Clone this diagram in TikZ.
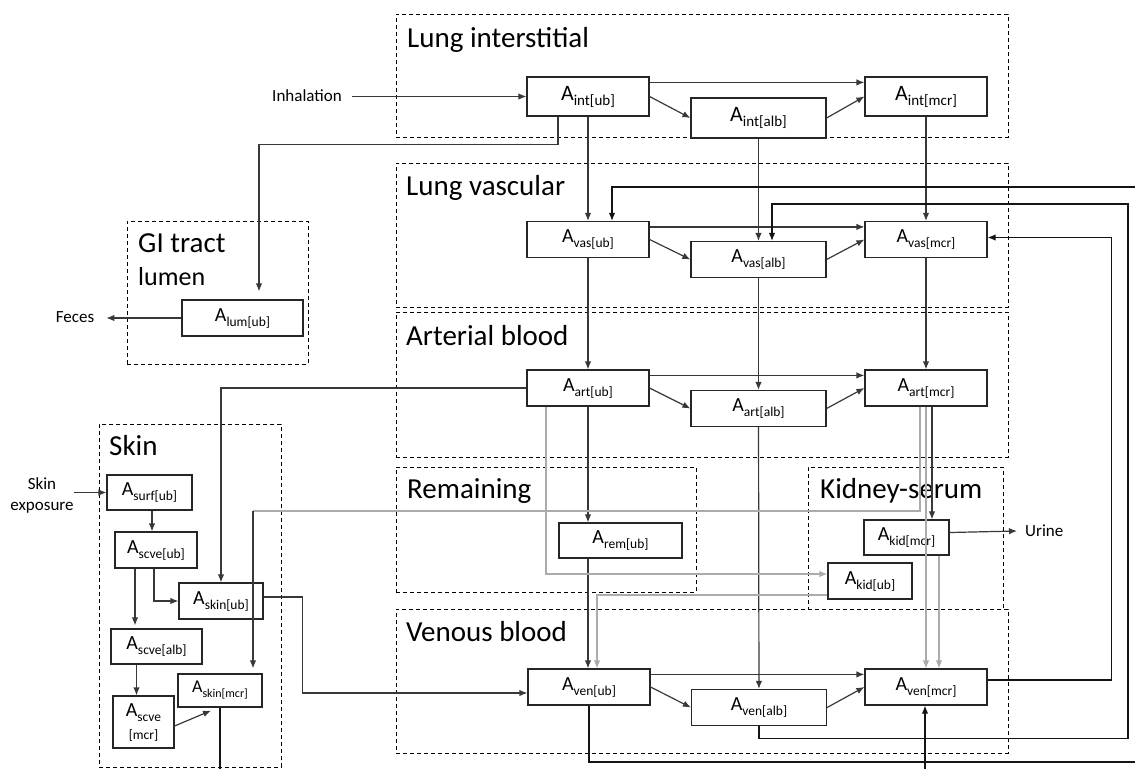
\documentclass[tikz,border=0pt]{standalone}
\usepackage{fontspec}
\setmainfont{Carlito}
\usetikzlibrary{arrows.meta, positioning, calc}

\newcommand{\Acomp}[2][13.5]{A\raisebox{-5pt}{\fontsize{#1}{#1}\selectfont #2}}

\tikzset{
  compbox/.style={draw=black!85, line width=1.2pt, inner sep=0pt, font=\fontsize{20}{24}\selectfont},
  ubbox/.style={compbox, minimum width=122pt, minimum height=36pt},
  albbox/.style={compbox, minimum width=135pt, minimum height=36pt},
  region/.style={draw=black, dash pattern=on 4pt off 3pt, line width=0.9pt, inner sep=0pt, anchor=north west},
  regtitle/.style={anchor=base west, inner sep=0pt, font=\fontsize{29}{34}\selectfont},
  flow/.style={draw=black!78, line width=1.2pt, -{Latex[length=8pt,width=6.5pt]}},
  loopflow/.style={flow, draw=black!92},
  grayflow/.style={flow, draw=black!33},
  extlabel/.style={inner sep=0pt, font=\fontsize{17}{21}\selectfont}
}

\begin{document}
\begin{tikzpicture}[x=1pt, y=-1pt]
\useasboundingbox (0,0) rectangle (1135,769);

\node[region, minimum width=612pt, minimum height=123pt] (lungint) at (396,14) {};
\node[region, minimum width=612pt, minimum height=144pt] (lungvas) at (396,163) {};
\node[region, minimum width=612pt, minimum height=145pt] (artblood) at (396,312) {};
\node[region, minimum width=300pt, minimum height=125pt] (remain) at (396,467) {};
\node[region, minimum width=195pt, minimum height=142pt] (kidney) at (808,467) {};
\node[region, minimum width=612pt, minimum height=144pt] (venblood) at (396,609) {};
\node[region, minimum width=181pt, minimum height=143pt] (gitract) at (127,221) {};
\node[region, minimum width=182pt, minimum height=343pt] (skin) at (99,424) {};

\node[regtitle] (tlungint) at ($(lungint.north west)+(11,33)$) {Lung interstitial};
\node[regtitle] (tlungvas) at ($(lungvas.north west)+(10,32)$) {Lung vascular};
\node[regtitle] (tart) at ($(artblood.north west)+(10,33)$) {Arterial blood};
\node[regtitle] (trem) at ($(remain.north west)+(11,31)$) {Remaining};
\node[regtitle] (tkid) at ($(kidney.north west)+(12,31)$) {Kidney-serum};
\node[regtitle] (tven) at ($(venblood.north west)+(10,32)$) {Venous blood};
\node[regtitle] (tgi) at ($(gitract.north west)+(11,31)$) {GI tract};
\node[regtitle, font=\fontsize{26}{30}\selectfont] (tlumen) at ($(tgi.base west)+(0,33)$) {lumen};
\node[regtitle] (tskin) at ($(skin.north west)+(10,31)$) {Skin};

\node[ubbox, minimum height=39pt, font=\fontsize{22}{26}\selectfont] (intub) at (588,96.5) {\Acomp[15]{int[ub]}};
\node[albbox, minimum height=40pt, font=\fontsize{22}{26}\selectfont] (intalb) at (758.5,118) {\Acomp[15]{int[alb]}};
\node[ubbox, minimum height=39pt, font=\fontsize{22}{26}\selectfont] (intmcr) at (926,96.5) {\Acomp[15]{int[mcr]}};

\node[ubbox] (vasub) at (588,239.5) {\Acomp{vas[ub]}};
\node[albbox] (vasalb) at (758.5,259.5) {\Acomp{vas[alb]}};
\node[ubbox] (vasmcr) at (926,239.5) {\Acomp{vas[mcr]}};

\node[ubbox] (artub) at (588,388) {\Acomp{art[ub]}};
\node[albbox] (artalb) at (758.5,408.5) {\Acomp{art[alb]}};
\node[ubbox] (artmcr) at (926,388) {\Acomp{art[mcr]}};

\node[ubbox] (venub) at (589,687) {\Acomp{ven[ub]}};
\node[albbox] (venalb) at (759,707.5) {\Acomp{ven[alb]}};
\node[ubbox] (venmcr) at (926,687) {\Acomp{ven[mcr]}};

\node[ubbox, minimum width=123pt, minimum height=35pt] (remub) at (620.5,540.5) {\Acomp{rem[ub]}};
\node[compbox, minimum width=85pt, minimum height=35pt] (kidmcr) at (906.5,537.5) {\Acomp{kid[mcr]}};
\node[compbox, minimum width=84pt, minimum height=36pt] (kidub) at (870,581) {\Acomp{kid[ub]}};
\node[ubbox, minimum width=121pt] (lumub) at (242.5,318) {\Acomp{lum[ub]}};

\node[compbox, minimum width=85pt, minimum height=35pt] (surfub) at (149.5,492.5) {\Acomp{surf[ub]}};
\node[compbox, minimum width=82pt, minimum height=36pt] (scveub) at (156,550) {\Acomp{scve[ub]}};
\node[compbox, minimum width=84pt, minimum height=36pt] (skinub) at (221,601) {\Acomp{skin[ub]}};
\node[compbox, minimum width=91pt, minimum height=35pt] (scvealb) at (156.5,646.5) {\Acomp{scve[alb]}};
\node[compbox, minimum width=84pt, minimum height=33pt, font=\fontsize{18}{22}\selectfont] (skinmcr) at (220,690.5) {\Acomp[12]{skin[mcr]}};
\node[compbox, minimum width=61pt, minimum height=52pt, align=center] (scvemcr) at (143.5,722) {\Acomp{scve}\\[-1pt]{\fontsize{13.5}{14}\selectfont [mcr]}};

\node[extlabel] (inhal) at (307,96) {Inhalation};
\node[extlabel] (feces) at (75,317) {Feces};
\node[extlabel, anchor=west] (urine) at (1025,531) {Urine};
\node[extlabel, align=center] (skinexp) at (42,495) {Skin\\exposure};

\coordinate (outbot) at (1135,762);
\coordinate (intop) at (1135,187);
\coordinate (skinturn) at (253,511);
\coordinate (skinout) at (220,769);
\coordinate (venin) at (925,769);

\draw[flow, shorten <=10pt] (inhal.east |- intub.west) -- (intub.west);
\draw[flow, shorten >=12pt] (lumub.west) -- (lumub.west -| feces.east);
\draw[flow] ([yshift=5pt]kidmcr.east) -- ([xshift=-8pt]urine.west);
\draw[flow] (skinexp.east |- surfub.west) -- (surfub.west);

\foreach \lay in {int,vas,art,ven}{
  \draw[flow] ([yshift=-6pt]\lay ub.north east) -- ([yshift=-6pt]\lay mcr.north west);
  \draw[flow] (\lay ub.east) -- (\lay alb.west);
  \draw[flow] (\lay alb.east) -- (\lay mcr.west);
}

\draw[flow] (intub) -- (vasub);
\draw[flow] (vasub) -- (artub);
\draw[flow] (artub.south) -- (artub.south |- remub.north);
\draw[flow] (artub.south |- remub.south) -- (artub.south |- venub.north);
\draw[flow] (intalb) -- (vasalb);
\draw[flow] (vasalb) -- (artalb);
\draw[flow] (artalb) -- (venalb);
\draw[flow] (intmcr) -- (vasmcr);
\draw[flow] (vasmcr) -- (artmcr);

\draw[flow, shorten >=8pt] ([xshift=-30pt]intub.south) -- ++(0,28) -| ([xshift=16.5pt]lumub.north);
\draw[flow] (artub.west) -| (skinub.north);

\draw[grayflow] ([xshift=-42pt]artub.south) |- ([yshift=7pt]kidub.west);
\draw[grayflow] ([yshift=-14pt]kidub.west) -| ([xshift=8pt]venub.north);
\draw[grayflow, -] ([xshift=-6pt]artmcr.south) |- (skinturn);
\draw[flow, shorten >=5pt] (skinturn) -- (skinturn |- skinmcr.north);
\draw[grayflow] (artmcr.south) -- (venmcr.north);
\draw[flow] ([xshift=6pt]artmcr.south) -- ([xshift=6pt]artmcr.south |- kidmcr.north);
\draw[grayflow] ([xshift=13pt]artmcr.south |- kidmcr.south) -- ([xshift=13pt]venmcr.north);

\draw[flow] ([yshift=4pt]skinub.east) -- ++(39,0) |- ([yshift=-6pt]venub.west);

\draw[loopflow, -] (venub.south) |- (outbot);
\draw[loopflow] (intop) -| ([xshift=24pt]vasub.north);
\draw[loopflow] (venalb.south) -- ++(0,12) -| (1128,204) -| ([xshift=13.5pt]vasalb.north);
\draw[loopflow] ([yshift=7pt]venmcr.east) -- ++(124,0) |- ([yshift=2pt]vasmcr.east);
\draw[loopflow, -] (skinmcr.south) -- (skinout);
\draw[loopflow] (venin) -- (venin |- venmcr.south);

\draw[flow] ([xshift=2.5pt]surfub.south) -- ([xshift=2.5pt]surfub.south |- scveub.north);
\draw[flow, shorten >=3pt] ([xshift=-21pt]scveub.south) -- ([xshift=-21pt]scveub.south |- scvealb.north);
\draw[flow] ([xshift=-2pt]scveub.south) |- (skinub.west);
\draw[flow] ([xshift=-20pt]scvealb.south) -- ([xshift=-20pt]scvealb.south |- scvemcr.north);
\draw[flow] ([yshift=-4pt]scvemcr.east) -- ([xshift=-9pt, yshift=-3pt]skinmcr.south);
\end{tikzpicture}
\end{document}
